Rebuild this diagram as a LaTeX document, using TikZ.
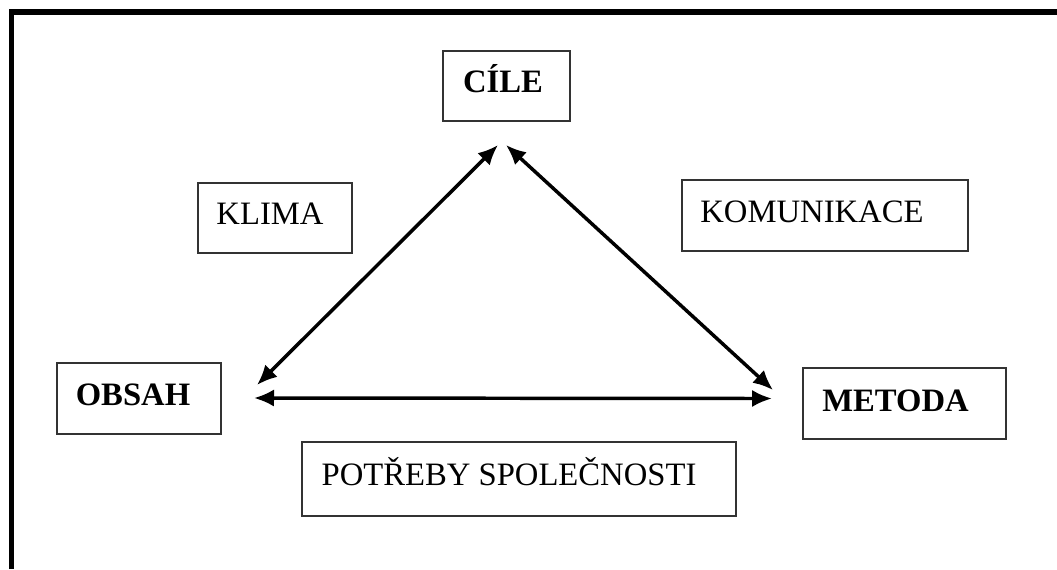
\documentclass[tikz,border=0pt]{standalone}
\usepackage{fontspec}
\setmainfont{Liberation Serif}
\usetikzlibrary{arrows.meta,fit}
\tikzset{
  boxnode/.style={draw=black!80, line width=1.1pt, inner sep=0pt, fill=none},
  lbl/.style={anchor=base, inner sep=0pt, font=\fontsize{24.5}{28}\selectfont},
  blbl/.style={lbl, font=\fontsize{24.5}{28}\selectfont\bfseries},
  dblarrow/.style={line width=2.6pt, {Latex[length=15pt,width=13pt]}-{Latex[length=15pt,width=13pt]}}
}
\begin{document}
\begin{tikzpicture}[x=0.75pt, y=-0.75pt]
\useasboundingbox (0,0) rectangle (1057,569);
% outer frame (top and left only visible)
\draw[line width=3.9pt, line join=miter] (11.5,569) -- (11.5,12) -- (1057,12);

% boxes
\node[boxnode, fit={(443,51) (570,121)}] (cile) {};
\node[boxnode, fit={(57,363) (221,434)}] (obsah) {};
\node[boxnode, fit={(803,368) (1006,439)}] (metoda) {};
\node[boxnode, fit={(198,183) (352,253)}] (klima) {};
\node[boxnode, fit={(682,180) (968,251)}] (komunikace) {};
\node[boxnode, fit={(302,442) (736,516)}] (potreby) {};

% texts
\node[blbl] (tcile) at (503,92) {CÍLE};
\node[blbl] (tobsah) at (133,405) {OBSAH};
\node[blbl] (tmetoda) at (895.5,411) {METODA};
\node[lbl] (tklima) at (270,224) {KLIMA};
\node[lbl] (tkomunikace) at (812,222) {KOMUNIKACE};
\node[lbl] (tpotreby) at (509,485) {POTŘEBY SPOLEČNOSTI};

% arrow end points
\coordinate (aTopL) at (498,145);
\coordinate (aTopR) at (506,145);
\coordinate (aLeftD) at (257,385);
\coordinate (aLeftH) at (254,398);
\coordinate (aRightD) at (773,390);
\coordinate (aRightH) at (772,398.5);

\draw[dblarrow] (aLeftD) -- (aTopL);
\draw[dblarrow] (aTopR) -- (aRightD);
\draw[dblarrow] (aLeftH) -- (aRightH);
\end{tikzpicture}
\end{document}
